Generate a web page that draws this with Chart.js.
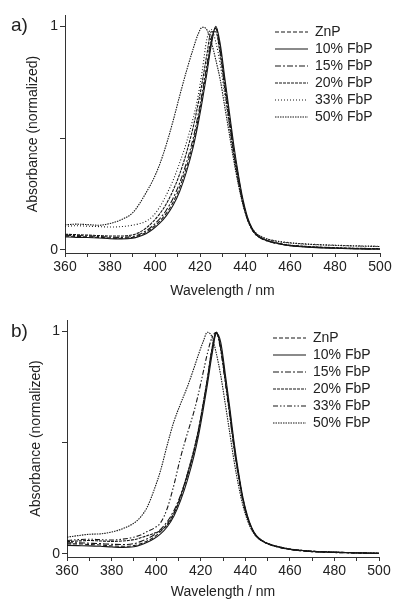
<!DOCTYPE html>
<html><head><meta charset="utf-8">
<script src="https://cdn.jsdelivr.net/npm/chart.js@4.4.1/dist/chart.umd.min.js"></script>
<style>
html,body{margin:0;padding:0;background:#fff;}
#wrap{position:relative;width:394px;height:601px;overflow:hidden;font-family:"Liberation Sans",Arial,sans-serif;}
canvas{position:absolute;left:0;}
.lbl{position:absolute;font-size:19px;line-height:1;color:#222;}
</style></head><body>
<div id="wrap">
<canvas id="ca" width="394" height="300" style="top:0;width:394px;height:300px"></canvas>
<canvas id="cb" width="394" height="301" style="top:300px;width:394px;height:301px"></canvas>
<div class="lbl" style="left:11px;top:15px">a)</div>
<div class="lbl" style="left:11px;top:321px">b)</div>
</div>
<script>
// ---- data ----
const wavelength = [360,365,370,375,380,385,390,393,396,399,402,405,408,411,414,417,419,421,423,425,427,429,431,433,435,437,439,441,443,445,448,451,455,460,465,470,480,490,500];
const seriesNames = ['ZnP','10% FbP','15% FbP','20% FbP','33% FbP','50% FbP'];

// panel a
const a_ZnP  = [.062,.060,.058,.056,.053,.052,.056,.064,.078,.100,.127,.163,.212,.280,.370,.480,.575,.685,.805,.930,.995,.900,.750,.600,.450,.330,.220,.145,.095,.068,.048,.037,.028,.020,.016,.013,.009,.006,.005];
const a_F10  = [.058,.056,.055,.053,.050,.049,.052,.060,.072,.092,.118,.152,.198,.262,.350,.460,.555,.665,.785,.915,1.00,.920,.770,.620,.470,.340,.230,.150,.100,.070,.050,.038,.028,.019,.014,.011,.007,.004,.003];
const a_F15  = [.066,.064,.062,.060,.057,.056,.060,.069,.085,.108,.138,.177,.230,.300,.390,.500,.595,.705,.825,.945,.990,.890,.740,.590,.440,.320,.215,.140,.093,.066,.047,.036,.027,.019,.015,.012,.008,.005,.004];
const a_F20  = [.070,.068,.066,.064,.062,.062,.067,.078,.097,.125,.160,.205,.265,.340,.435,.550,.645,.750,.870,.975,.975,.870,.720,.570,.430,.310,.210,.138,.092,.066,.048,.038,.029,.021,.017,.014,.010,.007,.006];
const a_F33  = [.105,.108,.106,.104,.102,.104,.110,.117,.128,.150,.190,.245,.310,.390,.480,.590,.680,.800,.940,.985,.930,.830,.690,.550,.415,.300,.208,.142,.098,.074,.056,.046,.038,.032,.028,.025,.021,.018,.016];
const a_F50  = [.112,.115,.113,.110,.118,.135,.165,.205,.255,.310,.380,.470,.575,.690,.800,.900,.960,.995,.985,.930,.850,.760,.640,.520,.400,.295,.205,.140,.098,.073,.055,.045,.037,.031,.027,.024,.020,.017,.015];

// panel b
const b_ZnP  = [.045,.045,.042,.040,.036,.034,.037,.045,.058,.075,.100,.135,.185,.255,.350,.460,.550,.660,.780,.910,.990,.930,.790,.640,.485,.355,.245,.165,.113,.080,.056,.042,.030,.020,.014,.010,.006,.004,.002];
const b_F10  = [.038,.037,.036,.034,.031,.029,.032,.040,.052,.068,.090,.122,.170,.240,.330,.440,.530,.640,.760,.890,.990,.950,.810,.660,.500,.365,.250,.170,.115,.082,.057,.043,.031,.021,.015,.011,.007,.004,.002];
const b_F15  = [.050,.050,.048,.046,.043,.042,.046,.055,.068,.085,.110,.145,.195,.265,.355,.465,.555,.665,.785,.915,.995,.925,.785,.635,.480,.350,.240,.162,.110,.078,.055,.041,.030,.020,.014,.010,.006,.004,.002];
const b_F20  = [.055,.058,.060,.058,.056,.058,.064,.072,.082,.092,.105,.130,.180,.260,.360,.470,.560,.670,.790,.920,.995,.920,.780,.630,.475,.350,.240,.163,.112,.080,.057,.043,.032,.022,.016,.012,.008,.005,.003];
const b_F33  = [.060,.064,.066,.064,.062,.066,.075,.085,.100,.115,.140,.205,.310,.435,.540,.640,.720,.810,.900,.970,.995,.910,.770,.620,.470,.345,.235,.160,.110,.080,.057,.043,.032,.022,.016,.012,.008,.005,.003];
const b_F50  = [.075,.082,.088,.090,.098,.113,.138,.165,.210,.285,.375,.490,.595,.675,.750,.835,.895,.950,.995,.975,.900,.800,.675,.545,.415,.305,.215,.150,.105,.077,.055,.042,.031,.021,.016,.012,.008,.005,.003];

const xTickValues = [360,370,380,390,400,410,420,430,440,450,460,470,480,490,500];
const xTickLabels = ['360','','380','','400','','420','','440','','460','','480','','500'];
const yTickValues = [0,0.5,1];
const yTickLabels = ['0','','1'];

const dashesA = [[4,2],[],[6,2,2,2],[3,1],[1,2],[1.5,1]];
const dashesB = [[4,2],[],[6,2,2,2],[3,1],[5,2,1.5,2,1.5,2],[1.5,1]];

// ---- chart ----
const FONT = '"Liberation Sans", Arial, sans-serif';
const INK = '#222';
const LINE = '#161616';

const legendMover = {
  id: 'legendMover',
  afterLayout(chart, args, opts) {
    const lg = chart.legend;
    if (!lg) return;
    const w = lg.width, h = lg.height;
    lg.left = opts.left; lg.right = opts.left + w;
    lg.top = opts.top; lg.bottom = opts.top + h;
  }
};

function makeChart(id, series, dashes, cfg) {
  const datasets = series.map((s, i) => ({
    label: seriesNames[i],
    data: wavelength.map((w, j) => ({x: w, y: s[j]})),
    borderColor: LINE,
    borderWidth: 1.1,
    borderDash: dashes[i],
    pointRadius: 0,
    fill: false,
    cubicInterpolationMode: 'monotone'
  }));
  return new Chart(document.getElementById(id), {
    type: 'line',
    data: {datasets},
    options: {
      responsive: false,
      animation: false,
      events: [],
      layout: {padding: {left: 0, right: cfg.padRight, top: cfg.padTop, bottom: 0}},
      plugins: {
        legend: {
          position: 'chartArea',
          align: 'start',
          labels: {
            usePointStyle: true, pointStyle: 'line', pointStyleWidth: 33,
            boxHeight: 14, padding: 3, color: INK,
            font: {family: FONT, size: 14},
            generateLabels: (chart) => chart.data.datasets.map((ds, i) => ({
              text: ds.label,
              datasetIndex: i,
              hidden: false,
              fillStyle: LINE,
              strokeStyle: LINE,
              lineWidth: 1.1,
              lineDash: ds.borderDash,
              lineCap: 'butt',
              pointStyle: 'line',
              fontColor: INK
            }))
          }
        },
        tooltip: {enabled: false},
        legendMover: {left: cfg.legLeft, top: cfg.legTop}
      },
      scales: {
        x: {
          type: 'linear', min: 360, max: 500,
          afterFit(s) { s.height = cfg.xH; },
          afterBuildTicks(s) { s.ticks = xTickValues.map(v => ({value: v})); },
          ticks: {callback: (v, i) => xTickLabels[i], color: INK, font: {family: FONT, size: 14}, padding: 2, maxRotation: 0, autoSkip: false},
          grid: {drawOnChartArea: false, drawTicks: true, tickLength: 4, color: '#333', lineWidth: 1},
          border: {color: '#333', width: 1},
          title: {display: true, text: 'Wavelength / nm', color: INK, font: {family: FONT, size: 14}, padding: {top: 0, bottom: 0}}
        },
        y: {
          type: 'linear', min: -0.014, max: 1.05,
          afterFit(s) { s.width = cfg.yW; },
          afterBuildTicks(s) { s.ticks = yTickValues.map(v => ({value: v})); },
          ticks: {callback: (v, i) => yTickLabels[i], color: INK, font: {family: FONT, size: 14}, padding: 2, autoSkip: false},
          grid: {drawOnChartArea: false, drawTicks: true, tickLength: 5, color: '#333', lineWidth: 1},
          border: {color: '#333', width: 1},
          title: {display: true, text: 'Absorbance (normalized)', color: INK, font: {family: FONT, size: 14}, padding: {top: cfg.yTitlePad, bottom: 0}}
        }
      }
    },
    plugins: [legendMover]
  });
}

makeChart('ca', [a_ZnP, a_F10, a_F15, a_F20, a_F33, a_F50], dashesA,
  {padTop: 15, padRight: 14, yW: 65, xH: 47, yTitlePad: 25, legLeft: 272, legTop: 22});
makeChart('cb', [b_ZnP, b_F10, b_F15, b_F20, b_F33, b_F50], dashesB,
  {padTop: 20, padRight: 15, yW: 67, xH: 44, yTitlePad: 28, legLeft: 270, legTop: 28});
</script>
</body></html>
